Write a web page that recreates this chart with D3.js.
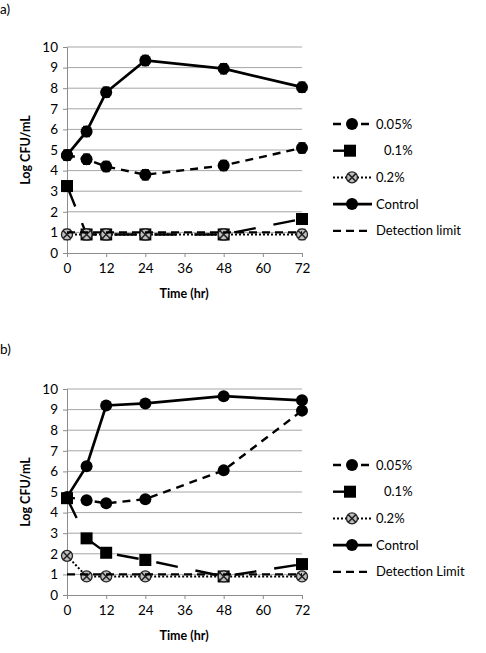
<!DOCTYPE html>
<html>
<head>
<meta charset="utf-8">
<script src="https://cdn.jsdelivr.net/npm/d3@7"></script>
<style>
body { margin: 0; background: #fff; }
text { font-family: Lato, "Open Sans", sans-serif; fill: #000; }
</style>
</head>
<body>
<svg id="chart" width="486" height="653"></svg>
<script>
// sampling times (hr)
var times = [0, 6, 12, 24, 48, 72];
var xTicks = [0, 12, 24, 36, 48, 60, 72];
var yTicks = [0, 1, 2, 3, 4, 5, 6, 7, 8, 9, 10];

// panel a
var a005 = [4.75, 4.55, 4.2, 3.8, 4.25, 5.1];
var a01 = [3.25, 0.9, 0.9, 0.9, 0.9, 1.65];
var a02 = [0.9, 0.9, 0.9, 0.9, 0.9, 0.9];
var aControl = [4.75, 5.9, 7.8, 9.35, 8.95, 8.05];
var aErr = [0.25, 0.25, 0.25, 0.25, 0.25, 0.25];

// panel b
var b005 = [4.75, 4.6, 4.45, 4.65, 6.05, 8.95];
var b01 = [4.7, 2.75, 2.05, 1.7, 0.9, 1.5];
var b02 = [1.9, 0.9, 0.9, 0.9, 0.9, 0.9];
var bControl = [4.75, 6.25, 9.2, 9.3, 9.65, 9.45];
var bErr = [0.18, 0.18, 0.18, 0.18, 0.18, 0.18];

var detectionLimit = 1;

var svg = d3.select("#chart");

// labels for the two panels
svg.append("text").attr("x", 0).attr("y", 14).style("font-size", "13.5px").text("a)");
svg.append("text").attr("x", 0).attr("y", 354).style("font-size", "13.5px").text("b)");

function drawPanel(top, series, legendTop, detLabel) {
    var x = d3.scaleLinear().domain([0, 72]).range([67, 302]);
    var y = d3.scaleLinear().domain([0, 10]).range([top + 206, top]);
    var g = svg.append("g");

    // grid lines
    g.selectAll(".grid").data(yTicks.slice(1)).enter().append("line")
        .attr("x1", x(0)).attr("x2", x(72))
        .attr("y1", function (d) { return y(d); })
        .attr("y2", function (d) { return y(d); })
        .attr("stroke", "#a6a6a6").attr("stroke-width", 1);

    var yAxis = g.append("g").attr("transform", "translate(" + x(0) + ",0)")
        .call(d3.axisLeft(y).tickValues(yTicks).tickSize(4).tickPadding(5));
    var xAxis = g.append("g").attr("transform", "translate(0," + y(0) + ")")
        .call(d3.axisBottom(x).tickValues(xTicks).tickSize(4).tickPadding(6));
    [xAxis, yAxis].forEach(function (ax) {
        ax.select(".domain").attr("stroke", "#8c8c8c");
        ax.selectAll(".tick line").attr("stroke", "#8c8c8c");
        ax.selectAll("text").style("font-size", "13.5px").style("font-family", "Lato, sans-serif");
    });

    g.append("text").attr("x", 184).attr("y", y(0) + 45)
        .attr("text-anchor", "middle").style("font-size", "12.5px").style("font-weight", "bold")
        .text("Time (hr)");
    g.append("text").attr("transform", "translate(30," + y(5) + ") rotate(-90)")
        .attr("text-anchor", "middle").style("font-size", "12.5px").style("font-weight", "bold")
        .text("Log CFU/mL");

    var line = d3.line()
        .x(function (d) { return x(d.t); })
        .y(function (d) { return y(d.v); });

    series.forEach(function (s) {
        var pts = times.map(function (t, i) { return { t: t, v: s.values[i], e: s.err ? s.err[i] : 0 }; });
        g.append("path").datum(pts).attr("d", line)
            .attr("fill", "none").attr("stroke", "#000")
            .attr("stroke-width", s.width).attr("stroke-dasharray", s.dash);
        // error bars
        if (s.err) {
            pts.forEach(function (p) {
                g.append("path")
                    .attr("d", "M" + (x(p.t) - 3.5) + "," + y(p.v + p.e) + "h7M" + x(p.t) + "," + y(p.v + p.e) +
                        "V" + y(p.v - p.e) + "M" + (x(p.t) - 3.5) + "," + y(p.v - p.e) + "h7")
                    .attr("stroke", "#000").attr("stroke-width", 1.2).attr("fill", "none");
            });
        }
        pts.forEach(function (p) { drawMarker(g, s.marker, x(p.t), y(p.v)); });
    });

    // detection limit on top
    g.append("line").attr("x1", x(0)).attr("x2", x(72))
        .attr("y1", y(detectionLimit)).attr("y2", y(detectionLimit))
        .attr("stroke", "#000").attr("stroke-width", 2.2).attr("stroke-dasharray", "8,5");

    // legend
    var items = series.concat([{ name: detLabel, dash: "8,5", width: 2.2, marker: null }]);
    items.forEach(function (s, i) {
        var ly = legendTop + i * 26.7;
        var x2 = s.marker === "square" ? 352 : 372;
        g.append("line").attr("x1", 333).attr("x2", x2).attr("y1", ly).attr("y2", ly)
            .attr("stroke", "#000").attr("stroke-width", s.width)
            .attr("stroke-dasharray", s.marker === "square" ? null : s.dash);
        if (s.marker) drawMarker(g, s.marker, s.marker === "square" ? 350 : 352, ly);
        g.append("text").attr("x", s.marker === "square" ? 384 : 376).attr("y", ly + 4.5)
            .style("font-size", "13px").text(s.name);
    });
}

function drawMarker(g, type, cx, cy) {
    if (type === "circle") {
        g.append("circle").attr("cx", cx).attr("cy", cy).attr("r", 6).attr("fill", "#000");
    } else if (type === "square") {
        g.append("rect").attr("x", cx - 6).attr("y", cy - 6).attr("width", 12).attr("height", 12).attr("fill", "#000");
    } else if (type === "cross") {
        g.append("circle").attr("cx", cx).attr("cy", cy).attr("r", 5.5).attr("fill", "#bfbfbf")
            .attr("stroke", "#222").attr("stroke-width", 1.3);
        g.append("path").attr("d", "M" + (cx - 3.8) + "," + (cy - 3.8) + "L" + (cx + 3.8) + "," + (cy + 3.8) +
            "M" + (cx + 3.8) + "," + (cy - 3.8) + "L" + (cx - 3.8) + "," + (cy + 3.8))
            .attr("stroke", "#222").attr("stroke-width", 1.5);
    }
}

drawPanel(47, [
    { name: "0.05%", values: a005, err: aErr, dash: "8,6", width: 2.4, marker: "circle" },
    { name: "0.1%", values: a01, err: aErr, dash: "22,18", width: 2.4, marker: "square" },
    { name: "0.2%", values: a02, err: aErr, dash: "2,2", width: 2, marker: "cross" },
    { name: "Control", values: aControl, err: aErr, dash: null, width: 2.7, marker: "circle" }
], 124, "Detection limit");

drawPanel(389, [
    { name: "0.05%", values: b005, err: bErr, dash: "8,6", width: 2.4, marker: "circle" },
    { name: "0.1%", values: b01, err: bErr, dash: "22,18", width: 2.4, marker: "square" },
    { name: "0.2%", values: b02, err: bErr, dash: "2,2", width: 2, marker: "cross" },
    { name: "Control", values: bControl, err: bErr, dash: null, width: 2.7, marker: "circle" }
], 465, "Detection Limit");
</script>
</body>
</html>
